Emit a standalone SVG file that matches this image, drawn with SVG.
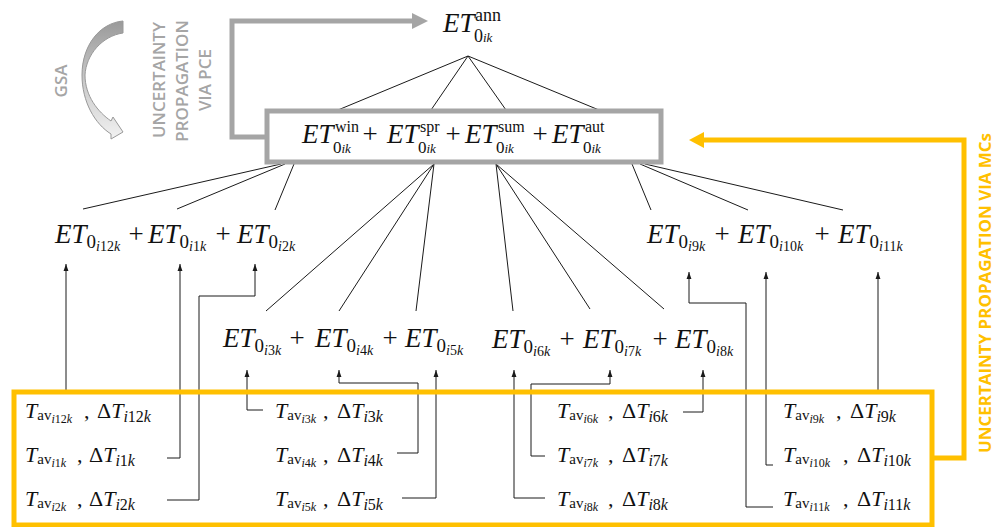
<svg xmlns="http://www.w3.org/2000/svg" width="1003" height="527" viewBox="0 0 1003 527">
<style>
.t{font-family:"Liberation Serif","Times New Roman",serif;fill:#111}
.i{font-style:italic}
.m{font-size:27px}
.b{font-size:22px}
.ln{stroke:#1a1a1a;stroke-width:1;fill:none}
.arr{stroke:#1a1a1a;stroke-width:1;fill:none;marker-end:url(#ah)}
.gl{font-family:"Open Sans","Liberation Sans",sans-serif;font-weight:600;fill:#a5a5a5;font-size:17px}
.ol{font-family:"Open Sans","Liberation Sans",sans-serif;font-weight:700;fill:#FFC000;font-size:16px}
</style>
<defs>
<marker id="ah" viewBox="0 0 10 10" refX="10" refY="5" markerWidth="7" markerHeight="7" orient="auto" markerUnits="userSpaceOnUse">
<path d="M0,1.5 L10,5 L0,8.5 z" fill="#1a1a1a"/>
</marker>
<linearGradient id="gsaG" x1="0" y1="0" x2="0" y2="1">
<stop offset="0" stop-color="#9a9a9a"/>
<stop offset="0.5" stop-color="#c8c8c8"/>
<stop offset="1" stop-color="#f2f2f2"/>
</linearGradient>
</defs>

<!-- grey annotations -->
<g id="gsa">
<path d="M123,21 L123,33 C102,36 86,55 85,75 C85,96 98,112 111,121 L113,117 L123,132 L111,139 L111,134 C95,124 82,102 82,75 C82,45 100,23 123,21 Z" fill="url(#gsaG)" stroke="#999" stroke-width="1"/>
<text class="gl" transform="translate(67,81) rotate(-90)" text-anchor="middle">GSA</text>
</g>
<g id="pce-label">
<text class="gl" transform="translate(165,80) rotate(-90)" text-anchor="middle">UNCERTAINTY</text>
<text class="gl" transform="translate(188,81) rotate(-90)" text-anchor="middle">PROPAGATION</text>
<text class="gl" transform="translate(211,80) rotate(-90)" text-anchor="middle">VIA PCE</text>
</g>
<g id="mc-label">
<text class="ol" transform="translate(991,293) rotate(-90)" text-anchor="middle" textLength="320" lengthAdjust="spacingAndGlyphs">UNCERTAINTY PROPAGATION VIA MCs</text>
</g>

<!-- connectors -->
<g id="connectors">
<path d="M267,137 H232 V21 H413" stroke="#a5a5a5" stroke-width="5" fill="none"/>
<polygon points="412,13 428,21 412,29" fill="#a5a5a5"/>
<path d="M932,458 H964 V140 H703" stroke="#FFC000" stroke-width="5" fill="none"/>
<polygon points="704,132 689,140 704,148" fill="#FFC000"/>

<path class="ln" d="M468,56 L338,110 M468,56 L431,110 M468,56 L506,110 M468,56 L599,110"/>
<path class="ln" d="M281,164 L83,209 M285,164 L177,209 M294,164 L275,210"/>
<path class="ln" d="M434,164 L266,311 M434,164 L339,311 M434,164 L416,311"/>
<path class="ln" d="M496,164 L513,311 M496,164 L590,309 M496,164 L664,309"/>
<path class="ln" d="M632,164 L651,210 M640,164 L748,210 M645,164 L843,210"/>

<path class="arr" d="M66,390 V264"/>
<path class="arr" d="M167,458 H180 V264"/>
<path class="arr" d="M167,500 H199 V296 H255 V264"/>
<path class="arr" d="M263,410 H247 V370"/>
<path class="arr" d="M397,453 H418 V383 H339 V370"/>
<path class="arr" d="M402,498 H436 V370"/>
<path class="arr" d="M545,498 H514 V370"/>
<path class="arr" d="M545,456 H531 V384 H610 V370"/>
<path class="arr" d="M683,412 H703 V370"/>
<path class="arr" d="M878,392 V272"/>
<path class="arr" d="M773,465 H766 V272"/>
<path class="arr" d="M773,507 H746 V303 H689 V272"/>
</g>

<!-- top node -->
<g id="et-ann">
<text class="t m i" x="443" y="32">ET</text>
<text class="t" x="475" y="21" font-size="18">ann</text>
<text class="t" x="474" y="42" font-size="18">0<tspan class="i" font-size="13">ik</tspan></text>
</g>

<!-- seasonal sum node -->
<g id="et-seasons">
<rect x="267" y="111" width="394" height="51" fill="#fff" stroke="#a5a5a5" stroke-width="5"/>
<text class="t m i" x="302" y="143">ET</text>
<text class="t" x="335" y="132" font-size="16">win</text>
<text class="t" x="333" y="153" font-size="17">0<tspan class="i" font-size="13">ik</tspan></text>
<text class="t m" x="370" y="143" text-anchor="middle">+</text>
<text class="t m i" x="387" y="143">ET</text>
<text class="t" x="420" y="132" font-size="16">spr</text>
<text class="t" x="418" y="153" font-size="17">0<tspan class="i" font-size="13">ik</tspan></text>
<text class="t m" x="453" y="143" text-anchor="middle">+</text>
<text class="t m i" x="465" y="143">ET</text>
<text class="t" x="498" y="132" font-size="16">sum</text>
<text class="t" x="496" y="153" font-size="17">0<tspan class="i" font-size="13">ik</tspan></text>
<text class="t m" x="540" y="143" text-anchor="middle">+</text>
<text class="t m i" x="552" y="143">ET</text>
<text class="t" x="585" y="132" font-size="16">aut</text>
<text class="t" x="583" y="153" font-size="17">0<tspan class="i" font-size="13">ik</tspan></text>
</g>

<!-- monthly groups -->
<g id="et-winter">
<text class="t m" x="55" y="243"><tspan class="i">ET</tspan><tspan font-size="19" dy="5">0</tspan><tspan font-size="14" dy="3"><tspan class="i">i</tspan>12<tspan class="i">k</tspan></tspan></text>
<text class="t m" x="136" y="243" text-anchor="middle">+</text>
<text class="t m" x="148" y="243"><tspan class="i">ET</tspan><tspan font-size="19" dy="5">0</tspan><tspan font-size="14" dy="3"><tspan class="i">i</tspan>1<tspan class="i">k</tspan></tspan></text>
<text class="t m" x="223" y="243" text-anchor="middle">+</text>
<text class="t m" x="237" y="243"><tspan class="i">ET</tspan><tspan font-size="19" dy="5">0</tspan><tspan font-size="14" dy="3"><tspan class="i">i</tspan>2<tspan class="i">k</tspan></tspan></text>
</g>
<g id="et-autumn">
<text class="t m" x="647" y="243"><tspan class="i">ET</tspan><tspan font-size="19" dy="5">0</tspan><tspan font-size="14" dy="3"><tspan class="i">i</tspan>9<tspan class="i">k</tspan></tspan></text>
<text class="t m" x="722" y="243" text-anchor="middle">+</text>
<text class="t m" x="738" y="243"><tspan class="i">ET</tspan><tspan font-size="19" dy="5">0</tspan><tspan font-size="14" dy="3"><tspan class="i">i</tspan>10<tspan class="i">k</tspan></tspan></text>
<text class="t m" x="822" y="243" text-anchor="middle">+</text>
<text class="t m" x="838" y="243"><tspan class="i">ET</tspan><tspan font-size="19" dy="5">0</tspan><tspan font-size="14" dy="3"><tspan class="i">i</tspan>11<tspan class="i">k</tspan></tspan></text>
</g>
<g id="et-spring">
<text class="t m" x="223" y="347"><tspan class="i">ET</tspan><tspan font-size="19" dy="5">0</tspan><tspan font-size="14" dy="3"><tspan class="i">i</tspan>3<tspan class="i">k</tspan></tspan></text>
<text class="t m" x="297" y="347" text-anchor="middle">+</text>
<text class="t m" x="315" y="347"><tspan class="i">ET</tspan><tspan font-size="19" dy="5">0</tspan><tspan font-size="14" dy="3"><tspan class="i">i</tspan>4<tspan class="i">k</tspan></tspan></text>
<text class="t m" x="390" y="347" text-anchor="middle">+</text>
<text class="t m" x="405" y="347"><tspan class="i">ET</tspan><tspan font-size="19" dy="5">0</tspan><tspan font-size="14" dy="3"><tspan class="i">i</tspan>5<tspan class="i">k</tspan></tspan></text>
</g>
<g id="et-summer">
<text class="t m" x="492" y="348"><tspan class="i">ET</tspan><tspan font-size="19" dy="5">0</tspan><tspan font-size="14" dy="3"><tspan class="i">i</tspan>6<tspan class="i">k</tspan></tspan></text>
<text class="t m" x="567" y="348" text-anchor="middle">+</text>
<text class="t m" x="583" y="348"><tspan class="i">ET</tspan><tspan font-size="19" dy="5">0</tspan><tspan font-size="14" dy="3"><tspan class="i">i</tspan>7<tspan class="i">k</tspan></tspan></text>
<text class="t m" x="660" y="348" text-anchor="middle">+</text>
<text class="t m" x="675" y="348"><tspan class="i">ET</tspan><tspan font-size="19" dy="5">0</tspan><tspan font-size="14" dy="3"><tspan class="i">i</tspan>8<tspan class="i">k</tspan></tspan></text>
</g>

<!-- inputs box -->
<g id="inputs">
<rect x="14" y="392" width="918" height="133" fill="none" stroke="#FFC000" stroke-width="5"/>
<text class="t b" x="25" y="418"><tspan class="i">T</tspan><tspan font-size="15" dy="2">av</tspan><tspan font-size="12" dy="3"><tspan class="i">i</tspan>12<tspan class="i">k</tspan></tspan><tspan x="84" dy="-5">,</tspan><tspan x="97">Δ<tspan class="i">T</tspan></tspan><tspan font-size="16" dy="4"><tspan class="i">i</tspan>12<tspan class="i">k</tspan></tspan></text>
<text class="t b" x="25" y="462"><tspan class="i">T</tspan><tspan font-size="15" dy="2">av</tspan><tspan font-size="12" dy="3"><tspan class="i">i</tspan>1<tspan class="i">k</tspan></tspan><tspan x="77" dy="-5">,</tspan><tspan x="89">Δ<tspan class="i">T</tspan></tspan><tspan font-size="16" dy="4"><tspan class="i">i</tspan>1<tspan class="i">k</tspan></tspan></text>
<text class="t b" x="25" y="506"><tspan class="i">T</tspan><tspan font-size="15" dy="2">av</tspan><tspan font-size="12" dy="3"><tspan class="i">i</tspan>2<tspan class="i">k</tspan></tspan><tspan x="77" dy="-5">,</tspan><tspan x="89">Δ<tspan class="i">T</tspan></tspan><tspan font-size="16" dy="4"><tspan class="i">i</tspan>2<tspan class="i">k</tspan></tspan></text>

<text class="t b" x="275" y="418"><tspan class="i">T</tspan><tspan font-size="15" dy="2">av</tspan><tspan font-size="12" dy="3"><tspan class="i">i</tspan>3<tspan class="i">k</tspan></tspan><tspan x="323" dy="-5">,</tspan><tspan x="337">Δ<tspan class="i">T</tspan></tspan><tspan font-size="16" dy="4"><tspan class="i">i</tspan>3<tspan class="i">k</tspan></tspan></text>
<text class="t b" x="275" y="462"><tspan class="i">T</tspan><tspan font-size="15" dy="2">av</tspan><tspan font-size="12" dy="3"><tspan class="i">i</tspan>4<tspan class="i">k</tspan></tspan><tspan x="323" dy="-5">,</tspan><tspan x="337">Δ<tspan class="i">T</tspan></tspan><tspan font-size="16" dy="4"><tspan class="i">i</tspan>4<tspan class="i">k</tspan></tspan></text>
<text class="t b" x="275" y="506"><tspan class="i">T</tspan><tspan font-size="15" dy="2">av</tspan><tspan font-size="12" dy="3"><tspan class="i">i</tspan>5<tspan class="i">k</tspan></tspan><tspan x="323" dy="-5">,</tspan><tspan x="337">Δ<tspan class="i">T</tspan></tspan><tspan font-size="16" dy="4"><tspan class="i">i</tspan>5<tspan class="i">k</tspan></tspan></text>

<text class="t b" x="557" y="418"><tspan class="i">T</tspan><tspan font-size="15" dy="2">av</tspan><tspan font-size="12" dy="3"><tspan class="i">i</tspan>6<tspan class="i">k</tspan></tspan><tspan x="608" dy="-5">,</tspan><tspan x="622">Δ<tspan class="i">T</tspan></tspan><tspan font-size="16" dy="4"><tspan class="i">i</tspan>6<tspan class="i">k</tspan></tspan></text>
<text class="t b" x="557" y="462"><tspan class="i">T</tspan><tspan font-size="15" dy="2">av</tspan><tspan font-size="12" dy="3"><tspan class="i">i</tspan>7<tspan class="i">k</tspan></tspan><tspan x="608" dy="-5">,</tspan><tspan x="622">Δ<tspan class="i">T</tspan></tspan><tspan font-size="16" dy="4"><tspan class="i">i</tspan>7<tspan class="i">k</tspan></tspan></text>
<text class="t b" x="557" y="506"><tspan class="i">T</tspan><tspan font-size="15" dy="2">av</tspan><tspan font-size="12" dy="3"><tspan class="i">i</tspan>8<tspan class="i">k</tspan></tspan><tspan x="608" dy="-5">,</tspan><tspan x="622">Δ<tspan class="i">T</tspan></tspan><tspan font-size="16" dy="4"><tspan class="i">i</tspan>8<tspan class="i">k</tspan></tspan></text>

<text class="t b" x="783" y="418"><tspan class="i">T</tspan><tspan font-size="15" dy="2">av</tspan><tspan font-size="12" dy="3"><tspan class="i">i</tspan>9<tspan class="i">k</tspan></tspan><tspan x="836" dy="-5">,</tspan><tspan x="850">Δ<tspan class="i">T</tspan></tspan><tspan font-size="16" dy="4"><tspan class="i">i</tspan>9<tspan class="i">k</tspan></tspan></text>
<text class="t b" x="783" y="462"><tspan class="i">T</tspan><tspan font-size="15" dy="2">av</tspan><tspan font-size="12" dy="3"><tspan class="i">i</tspan>10<tspan class="i">k</tspan></tspan><tspan x="843" dy="-5">,</tspan><tspan x="857">Δ<tspan class="i">T</tspan></tspan><tspan font-size="16" dy="4"><tspan class="i">i</tspan>10<tspan class="i">k</tspan></tspan></text>
<text class="t b" x="783" y="506"><tspan class="i">T</tspan><tspan font-size="15" dy="2">av</tspan><tspan font-size="12" dy="3"><tspan class="i">i</tspan>11<tspan class="i">k</tspan></tspan><tspan x="843" dy="-5">,</tspan><tspan x="857">Δ<tspan class="i">T</tspan></tspan><tspan font-size="16" dy="4"><tspan class="i">i</tspan>11<tspan class="i">k</tspan></tspan></text>
</g>
</svg>
